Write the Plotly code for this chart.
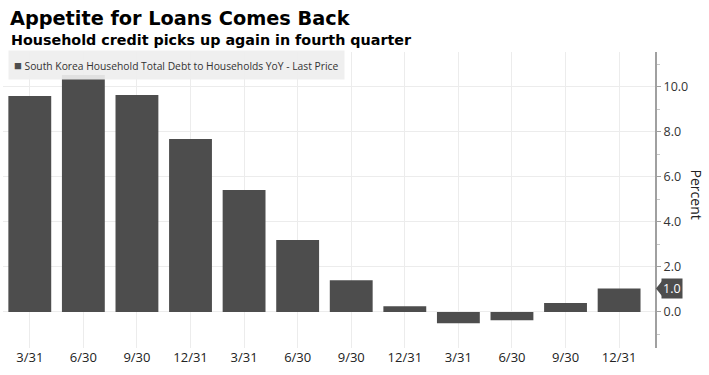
import plotly.graph_objects as go

tick_labels = ["3/31", "6/30", "9/30", "12/31", "3/31", "6/30", "9/30", "12/31",
               "3/31", "6/30", "9/30", "12/31"]
values = [9.6, 10.53, 9.64, 7.69, 5.42, 3.2, 1.41, 0.25, -0.5, -0.37, 0.4, 1.04]
series_name = "South Korea Household Total Debt to Households YoY - Last Price"
y_ticks = [0, 2, 4, 6, 8, 10]

bar_color = "#4d4d4d"
font_main = "Open Sans"

fig = go.Figure()
fig.add_trace(go.Bar(
    x=list(range(len(values))), y=values, marker_color=bar_color,
    marker_line_width=0, name=series_name, showlegend=False,
))

last = values[-1]

fig.update_layout(
    width=709, height=375,
    margin=dict(l=3, r=54, t=52, b=27),
    paper_bgcolor="white", plot_bgcolor="white",
    bargap=0.2,
    font=dict(family=font_main, color="#333333", size=12),
    xaxis=dict(
        range=[-0.5, 11.67],
        tickmode="array", tickvals=list(range(len(values))), ticktext=tick_labels,
        showgrid=True, gridcolor="#ececec", gridwidth=1,
        tickfont=dict(size=13, color="#222222", family=font_main),
        ticks="", zeroline=False, showline=False,
    ),
    yaxis=dict(
        side="right", range=[-1.6, 11.55],
        tickmode="array", tickvals=y_ticks,
        ticktext=[f"{v:.1f}" for v in y_ticks],
        showgrid=True, gridcolor="#ececec", gridwidth=1,
        zeroline=False, showline=True, linecolor="#a0a0a0", linewidth=2,
        ticks="outside", ticklen=4, tickcolor="#a0a0a0",
        tickfont=dict(size=12.5, color="#333333", family=font_main),
        minor=dict(dtick=1, tick0=1, ticks="outside", ticklen=3, tickcolor="#c8c8c8", showgrid=False),
    ),
    title=dict(
        text="<b>Appetite for Loans Comes Back</b>",
        xref="container", yref="container", x=10/709, xanchor="left",
        y=1 - 11/375, yanchor="top",
        font=dict(family="DejaVu Sans", size=19.3, color="#000000"),
    ),
)

fig.add_annotation(
    xref="paper", yref="paper", x=0, y=1, xanchor="left", yanchor="bottom",
    xshift=6, yshift=2, showarrow=False,
    text="<b>Household credit picks up again in fourth quarter</b>",
    font=dict(family="DejaVu Sans", size=14.3, color="#000000"),
)

# legend box
fig.add_annotation(
    xref="paper", yref="paper", x=0, y=1, xanchor="left", yanchor="top",
    xshift=5, yshift=2, showarrow=False,
    text=f"<span style='color:{bar_color};font-size:13px'>■</span> {series_name}",
    font=dict(family=font_main, size=10.3, color="#333333"),
    bgcolor="rgba(238,238,238,0.92)", borderpad=5, align="left",
)

# last value label
fig.add_annotation(
    xref="paper", yref="y", x=1, y=last, xanchor="left", yanchor="middle",
    xshift=6, showarrow=False, text=f"{last:.1f}",
    font=dict(family=font_main, size=12.5, color="white"),
    bgcolor=bar_color, borderpad=1,
)
fig.add_shape(
    type="path", xref="paper", yref="y", xsizemode="pixel", ysizemode="pixel",
    xanchor=1, yanchor=last, path="M1,0 L7,7.5 L7,-7.5 Z",
    fillcolor=bar_color, line_width=0,
)

# axis title
fig.add_annotation(
    xref="paper", yref="paper", x=1, y=0.52, xanchor="left", yanchor="middle",
    xshift=30, showarrow=False, text="Percent", textangle=90,
    font=dict(family=font_main, size=14, color="#222222"),
)

fig.write_html("out.html")
